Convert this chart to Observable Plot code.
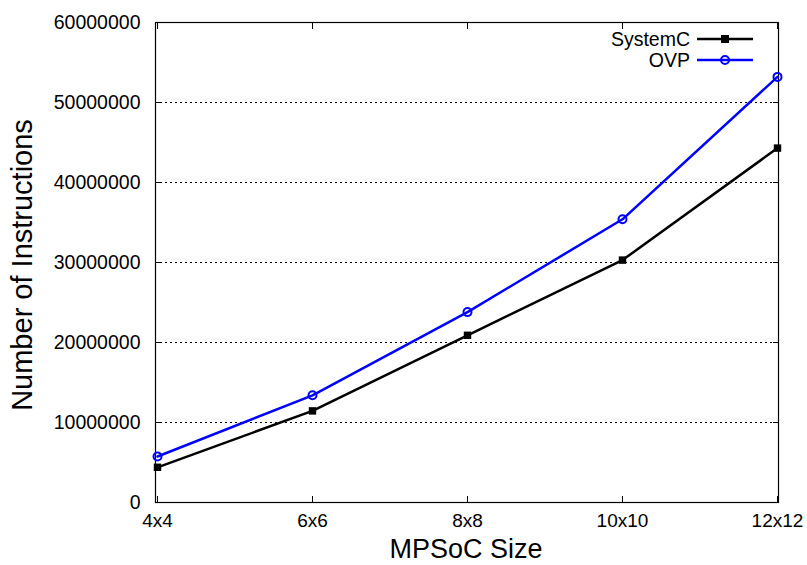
<!DOCTYPE html>
<html>
<head>
<meta charset="utf-8">
<script src="https://cdn.jsdelivr.net/npm/d3@7"></script>
<script src="https://cdn.jsdelivr.net/npm/@observablehq/plot@0.6"></script>
<style>
  html, body { margin: 0; padding: 0; background: #fff; }
  svg { font-family: "Liberation Sans", Arial, sans-serif; }
</style>
</head>
<body>
<div id="chart"></div>
<script>
const sizes = ["4x4", "6x6", "8x8", "10x10", "12x12"];
const systemC = [4400000, 11450000, 20900000, 30300000, 44300000];
const ovp = [5750000, 13400000, 23800000, 35400000, 53200000];
const yTicks = [0, 10000000, 20000000, 30000000, 40000000, 50000000, 60000000];
const seriesNames = ["SystemC", "OVP"];
const seriesColors = ["#000000", "#0000ff"];

const data = [];
sizes.forEach((s, i) => {
  data.push({size: s, value: systemC[i], series: "SystemC"});
  data.push({size: s, value: ovp[i], series: "OVP"});
});
const sc = data.filter(d => d.series === "SystemC");
const ov = data.filter(d => d.series === "OVP");

const chart = Plot.plot({
  width: 807,
  height: 565,
  marginLeft: 155,
  marginRight: 29,
  marginTop: 22,
  marginBottom: 63,
  style: {fontFamily: "Liberation Sans, Arial, sans-serif", background: "#fff", color: "#000"},
  x: {type: "point", domain: sizes, padding: 0},
  y: {domain: [0, 60000000]},
  marks: [
    Plot.gridY(yTicks.slice(1, -1), {stroke: "#000", strokeOpacity: 1, strokeWidth: 1, strokeDasharray: "2,3"}),
    Plot.frame({stroke: "#000", strokeWidth: 1.2}),
    Plot.axisY(yTicks, {anchor: "left", tickSize: 0, tickPadding: 15, tickFormat: d3.format("d"), fontSize: 19.5, label: null}),
    Plot.axisY(yTicks, {anchor: "left", tickSize: -6, text: null, label: null}),
    Plot.axisY(yTicks, {anchor: "right", tickSize: -6, text: null, label: null}),
    Plot.axisX(sizes, {anchor: "bottom", tickSize: 0, tickPadding: 11, fontSize: 19, label: null}),
    Plot.axisX(sizes, {anchor: "bottom", tickSize: -6, text: null, label: null}),
    Plot.axisX(sizes, {anchor: "top", tickSize: -6, text: null, label: null}),
    Plot.line(sc, {x: "size", y: "value", stroke: seriesColors[0], strokeWidth: 2.5}),
    Plot.line(ov, {x: "size", y: "value", stroke: seriesColors[1], strokeWidth: 2.5}),
    Plot.dot(sc, {x: "size", y: "value", symbol: "square", fill: seriesColors[0], r: 4.2}),
    Plot.dot(ov, {x: "size", y: "value", symbol: "circle", fill: "none", stroke: seriesColors[1], strokeWidth: 2, r: 4})
  ]
});

const svg = d3.select(chart);
// Axis titles
svg.append("text")
  .attr("x", 466).attr("y", 558)
  .attr("text-anchor", "middle")
  .attr("font-size", 27).attr("fill", "#000")
  .text("MPSoC Size");
svg.append("text")
  .attr("transform", "translate(32,265) rotate(-90)")
  .attr("text-anchor", "middle")
  .attr("font-size", 29).attr("fill", "#000")
  .text("Number of Instructions");

// Legend
const lg = svg.append("g");
seriesNames.forEach((name, i) => {
  const cy = 39 + i * 21;
  lg.append("text").attr("x", 690).attr("y", cy).attr("dy", "0.35em")
    .attr("text-anchor", "end").attr("font-size", 19.5).attr("fill", "#000").text(name);
  lg.append("line").attr("x1", 697).attr("x2", 753).attr("y1", cy).attr("y2", cy)
    .attr("stroke", seriesColors[i]).attr("stroke-width", 2.5);
  if (i === 0) {
    lg.append("rect").attr("x", 725 - 4).attr("y", cy - 4).attr("width", 8).attr("height", 8).attr("fill", seriesColors[i]);
  } else {
    lg.append("circle").attr("cx", 725).attr("cy", cy).attr("r", 4).attr("fill", "none")
      .attr("stroke", seriesColors[i]).attr("stroke-width", 2);
  }
});

document.getElementById("chart").appendChild(chart);
</script>
</body>
</html>
